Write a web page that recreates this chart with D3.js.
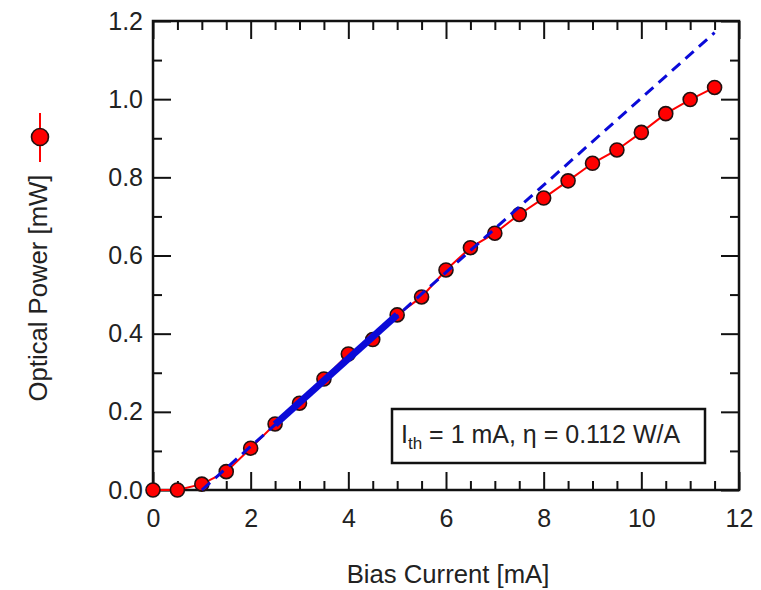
<!DOCTYPE html>
<html>
<head>
<meta charset="utf-8">
<script src="https://cdn.jsdelivr.net/npm/d3@7"></script>
<style>
  body { margin: 0; background: #fff; }
  text { font-family: "Liberation Sans", Arial, sans-serif; fill: #222; }
</style>
</head>
<body>
<div id="chart-area"></div>
<script>
/* Data */
const biasCurrent = [0, 0.5, 1, 1.5, 2, 2.5, 3, 3.5, 4, 4.5, 5, 5.5, 6, 6.5, 7, 7.5, 8, 8.5, 9, 9.5, 10, 10.5, 11, 11.5]
const opticalPower = [0, 0, 0.015, 0.047, 0.107, 0.169, 0.222, 0.284, 0.348, 0.385, 0.448, 0.494, 0.563, 0.620, 0.657, 0.705, 0.747, 0.791, 0.836, 0.870, 0.915, 0.963, 0.999, 1.030]

// linear fit: dashed extent and the fitted range (thick)
const fitCurrent = [1, 11.5]
const fitPower = [0, 1.17]
const fitRangeCurrent = [2.5, 5.0]
const fitRangePower = [0.168, 0.448]

const xMajorTicks = [0, 2, 4, 6, 8, 10, 12]
const yMajorTicks = [0, 0.2, 0.4, 0.6, 0.8, 1.0, 1.2]
const annotation = { sub: 'th', pre: 'I', post: ' = 1 mA, η = 0.112 W/A' }

/* Canvas */
const CANVAS_WIDTH = 761
const CANVAS_HEIGHT = 590
const plot = { left: 153, right: 739, top: 21, bottom: 490 }

const RED = '#ff0000'
const BLUE = '#0a0ad8'
const FONT = 25
const TITLE_FONT = 25.7

const $svg = d3.select('#chart-area')
  .append('svg')
  .attr('width', CANVAS_WIDTH)
  .attr('height', CANVAS_HEIGHT)

/* Scales */
const scaleX = d3.scaleLinear().domain([0, 12]).range([plot.left, plot.right])
const scaleY = d3.scaleLinear().domain([0, 1.2]).range([plot.bottom, plot.top])

const xMinor = d3.range(0, 12.01, 0.5).filter(v => v % 2 !== 0)
const yMinor = d3.range(0.1, 1.2, 0.2).map(v => +v.toFixed(1))

const styleAxis = g => {
  g.select('.domain').remove()
  g.selectAll('line').attr('stroke', '#111').attr('stroke-width', 2)
  g.selectAll('text').attr('font-size', FONT).attr('fill', '#222')
}

// bottom
$svg.append('g').attr('transform', `translate(0, ${plot.bottom})`)
  .call(d3.axisBottom(scaleX).tickValues(xMajorTicks).tickSize(-18).tickPadding(19).tickFormat(d3.format('d')))
  .call(styleAxis)
$svg.append('g').attr('transform', `translate(0, ${plot.bottom})`)
  .call(d3.axisBottom(scaleX).tickValues(xMinor).tickSize(-9).tickFormat(''))
  .call(styleAxis)
// top (mirror)
$svg.append('g').attr('transform', `translate(0, ${plot.top})`)
  .call(d3.axisTop(scaleX).tickValues(xMajorTicks).tickSize(-18).tickFormat(''))
  .call(styleAxis)
$svg.append('g').attr('transform', `translate(0, ${plot.top})`)
  .call(d3.axisTop(scaleX).tickValues(xMinor).tickSize(-9).tickFormat(''))
  .call(styleAxis)
// left
$svg.append('g').attr('transform', `translate(${plot.left}, 0)`)
  .call(d3.axisLeft(scaleY).tickValues(yMajorTicks).tickSize(-18).tickPadding(10).tickFormat(d3.format('.1f')))
  .call(styleAxis)
$svg.append('g').attr('transform', `translate(${plot.left}, 0)`)
  .call(d3.axisLeft(scaleY).tickValues(yMinor).tickSize(-9).tickFormat(''))
  .call(styleAxis)
// right (mirror)
$svg.append('g').attr('transform', `translate(${plot.right}, 0)`)
  .call(d3.axisRight(scaleY).tickValues(yMajorTicks).tickSize(-18).tickFormat(''))
  .call(styleAxis)
$svg.append('g').attr('transform', `translate(${plot.right}, 0)`)
  .call(d3.axisRight(scaleY).tickValues(yMinor).tickSize(-9).tickFormat(''))
  .call(styleAxis)

// frame
$svg.append('rect')
  .attr('x', plot.left).attr('y', plot.top)
  .attr('width', plot.right - plot.left).attr('height', plot.bottom - plot.top)
  .attr('fill', 'none').attr('stroke', '#111').attr('stroke-width', 2.5)

/* Data line + markers */
const data = biasCurrent.map((d, i) => ({ x: d, y: opticalPower[i] }))
const line = d3.line().x(d => scaleX(d.x)).y(d => scaleY(d.y))

$svg.append('path').datum(data)
  .attr('d', line)
  .attr('fill', 'none').attr('stroke', RED).attr('stroke-width', 2)

$svg.selectAll('circle.pt').data(data).enter()
  .append('circle').attr('class', 'pt')
  .attr('cx', d => scaleX(d.x)).attr('cy', d => scaleY(d.y))
  .attr('r', 7)
  .attr('fill', RED).attr('stroke', '#221010').attr('stroke-width', 1.6)

/* Fit lines */
const fitData = fitCurrent.map((d, i) => ({ x: d, y: fitPower[i] }))
const fitRange = fitRangeCurrent.map((d, i) => ({ x: d, y: fitRangePower[i] }))

$svg.append('path').datum(fitData)
  .attr('d', line)
  .attr('fill', 'none').attr('stroke', BLUE).attr('stroke-width', 3)
  .attr('stroke-dasharray', '11,7')

$svg.append('path').datum(fitRange)
  .attr('d', line)
  .attr('fill', 'none').attr('stroke', BLUE).attr('stroke-width', 7)

/* Annotation box */
$svg.append('rect')
  .attr('x', 392).attr('y', 409).attr('width', 313).attr('height', 54)
  .attr('fill', '#fff').attr('stroke', '#111').attr('stroke-width', 2.5)

const $ann = $svg.append('text').attr('x', 401).attr('y', 443).attr('font-size', FONT)
$ann.append('tspan').text(annotation.pre)
$ann.append('tspan').attr('dy', 6).attr('font-size', 17).text(annotation.sub)
$ann.append('tspan').attr('dy', -6).text(annotation.post)

/* Axis titles */
$svg.append('text')
  .attr('x', (plot.left + plot.right) / 2 + 2)
  .attr('y', 583)
  .attr('text-anchor', 'middle')
  .attr('font-size', TITLE_FONT)
  .text('Bias Current [mA]')

$svg.append('text')
  .attr('transform', 'translate(47, 288) rotate(-90)')
  .attr('text-anchor', 'middle')
  .attr('font-size', TITLE_FONT)
  .text('Optical Power [mW]')

// legend symbol above the y title
$svg.append('line')
  .attr('x1', 40).attr('x2', 40).attr('y1', 113).attr('y2', 162)
  .attr('stroke', RED).attr('stroke-width', 2)
$svg.append('circle')
  .attr('cx', 40).attr('cy', 137).attr('r', 8.5)
  .attr('fill', RED).attr('stroke', '#221010').attr('stroke-width', 1.6)
</script>
</body>
</html>
